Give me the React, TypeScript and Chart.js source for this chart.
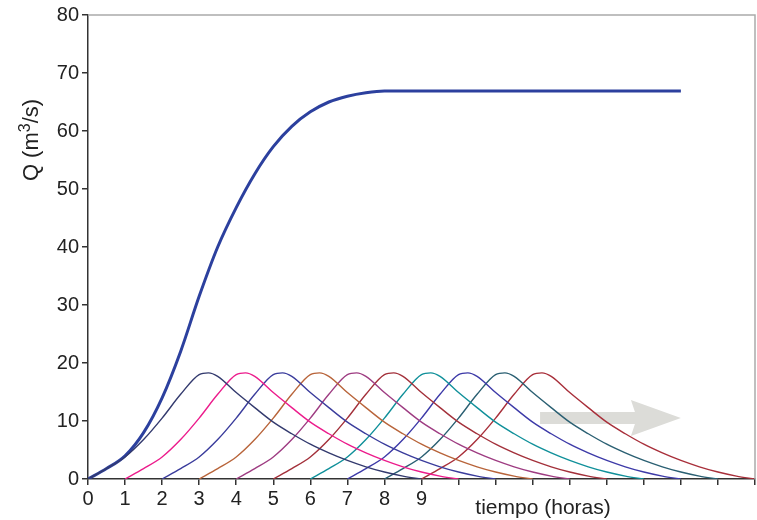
import React, { useEffect, useRef } from "react";
import { Chart, registerables } from "chart.js";

Chart.register(...registerables);

// Unit hydrograph ordinates (hours since start, Q m3/s)
const uhTime = [0, 0.5, 1, 1.5, 2, 2.5, 3, 3.25, 3.5, 4, 4.5, 5, 5.5, 6, 6.5, 7, 7.5, 8, 8.5, 9];
const uhFlow = [0, 1.8, 3.8, 6.8, 10.5, 14.6, 18.0, 18.3, 17.7, 14.9, 12.3, 9.8, 7.8, 6.0, 4.5, 3.2, 2.1, 1.2, 0.5, 0];

// Start times of the shifted unit hydrographs (hours)
const uhStarts = [0, 1, 2, 3, 4, 5, 6, 7, 8, 9];
const uhColors = ["#333a6e", "#ec1c8c", "#3a3c9c", "#b8643a", "#9e3c82", "#a3303a", "#10909a", "#3d3aa8", "#2a5f72", "#a82f3a"];

// S-curve
const sTime = [0, 0.5, 1, 1.5, 2, 2.5, 3, 3.5, 4, 4.5, 5, 5.5, 6, 6.5, 7, 7.5, 8, 9, 12, 16];
const sFlow = [0, 1.8, 4.0, 8.0, 14.0, 22.0, 31.5, 40.0, 46.8, 52.6, 57.3, 60.8, 63.3, 65.0, 66.0, 66.6, 66.9, 66.9, 66.9, 66.9];

const xMax = 18;
const xLabelMax = 9;
const yMax = 80;
const xTitle = "tiempo (horas)";

// Arrow (data coords)
const arrowFromX = 12.2;
const arrowHeadX = 14.76;
const arrowToX = 16.0;
const arrowY = 10.5;

const FONT = "'Liberation Sans', Arial, sans-serif";

export default function App() {
  const ref = useRef<HTMLCanvasElement | null>(null);

  useEffect(() => {
    if (!ref.current) return;
    const datasets: any[] = [];
    uhStarts.forEach((s, i) => {
      datasets.push({
        data: uhTime.map((t, k) => ({ x: t + s, y: uhFlow[k] })),
        borderColor: uhColors[i],
        borderWidth: 1.4,
        pointRadius: 0,
        fill: false,
        cubicInterpolationMode: "monotone",
      });
    });
    datasets.push({
      data: sTime.map((t, k) => ({ x: t, y: sFlow[k] })),
      borderColor: "#2c409e",
      borderWidth: 3,
      pointRadius: 0,
      fill: false,
      cubicInterpolationMode: "monotone",
    });

    const extras = {
      id: "extras",
      beforeDatasetsDraw(chart: any) {
        const ctx = chart.ctx;
        const xs = chart.scales.x;
        const ys = chart.scales.y;
        const x0 = xs.getPixelForValue(arrowFromX);
        const xh = xs.getPixelForValue(arrowHeadX);
        const x1 = xs.getPixelForValue(arrowToX);
        const yc = ys.getPixelForValue(arrowY);
        ctx.save();
        ctx.fillStyle = "#dcdcd8";
        ctx.beginPath();
        ctx.moveTo(x0, yc - 6);
        ctx.lineTo(xh, yc - 6);
        ctx.lineTo(xh - 4, yc - 18);
        ctx.lineTo(x1, yc);
        ctx.lineTo(xh - 4, yc + 18);
        ctx.lineTo(xh, yc + 6);
        ctx.lineTo(x0, yc + 6);
        ctx.closePath();
        ctx.fill();
        ctx.restore();
      },
      afterDraw(chart: any) {
        const ctx = chart.ctx;
        const a = chart.chartArea;
        ctx.save();
        ctx.strokeStyle = "#aaaaaa";
        ctx.lineWidth = 1.5;
        ctx.beginPath();
        ctx.moveTo(a.left, a.top);
        ctx.lineTo(a.right, a.top);
        ctx.lineTo(a.right, a.bottom);
        ctx.stroke();
        ctx.fillStyle = "#222";
        ctx.font = "21px " + FONT;
        ctx.textAlign = "center";
        ctx.textBaseline = "middle";
        ctx.fillText(xTitle, chart.scales.x.getPixelForValue(12.28), 508);
        // rotated y title with real superscript
        ctx.translate(30, 140);
        ctx.rotate(-Math.PI / 2);
        ctx.textAlign = "left";
        ctx.textBaseline = "alphabetic";
        const p1 = "Q (m";
        const p2 = "3";
        const p3 = "/s)";
        ctx.font = "22px " + FONT;
        const w1 = ctx.measureText(p1).width;
        const w3 = ctx.measureText(p3).width;
        ctx.font = "16px " + FONT;
        const w2 = ctx.measureText(p2).width;
        const total = w1 + w2 + w3;
        let x = -total / 2;
        const base = 8;
        ctx.font = "22px " + FONT;
        ctx.fillText(p1, x, base);
        x += w1;
        ctx.font = "16px " + FONT;
        ctx.fillText(p2, x, base - 8);
        x += w2;
        ctx.font = "22px " + FONT;
        ctx.fillText(p3, x, base);
        ctx.restore();
      },
    };

    const chart = new Chart(ref.current, {
      type: "line",
      data: { datasets },
      plugins: [extras],
      options: {
        animation: false,
        responsive: false,
        layout: { padding: { top: 15, right: 1, left: 0, bottom: 0 } },
        plugins: { legend: { display: false }, tooltip: { enabled: false } },
        scales: {
          x: {
            type: "linear",
            min: 0,
            max: xMax,
            afterFit: (s: any) => { s.height = 41; },
            ticks: {
              stepSize: 1,
              autoSkip: false,
              maxRotation: 0,
              padding: 2,
              color: "#222",
              font: { size: 20, family: FONT },
              callback: (v: any) => (v <= xLabelMax ? String(v) : ""),
            },
            grid: { drawOnChartArea: false, drawTicks: true, tickLength: 6, color: "#333", lineWidth: 1.5 },
            border: { display: true, color: "#333", width: 1.5 },
          },
          y: {
            min: 0,
            max: yMax,
            afterFit: (s: any) => { s.width = 88; },
            ticks: {
              stepSize: 10,
              padding: 3,
              color: "#222",
              font: { size: 20, family: FONT },
            },
            grid: { drawOnChartArea: false, drawTicks: true, tickLength: 6, color: "#333", lineWidth: 1.5 },
            border: { display: true, color: "#333", width: 1.5 },
          },
        },
      },
    });
    return () => chart.destroy();
  }, []);

  return (
    <div style={{ position: "fixed", left: 0, top: 0, width: 757, height: 520, background: "#fff" }}>
      <canvas ref={ref} width={757} height={520} style={{ width: 757, height: 520 }} />
    </div>
  );
}
